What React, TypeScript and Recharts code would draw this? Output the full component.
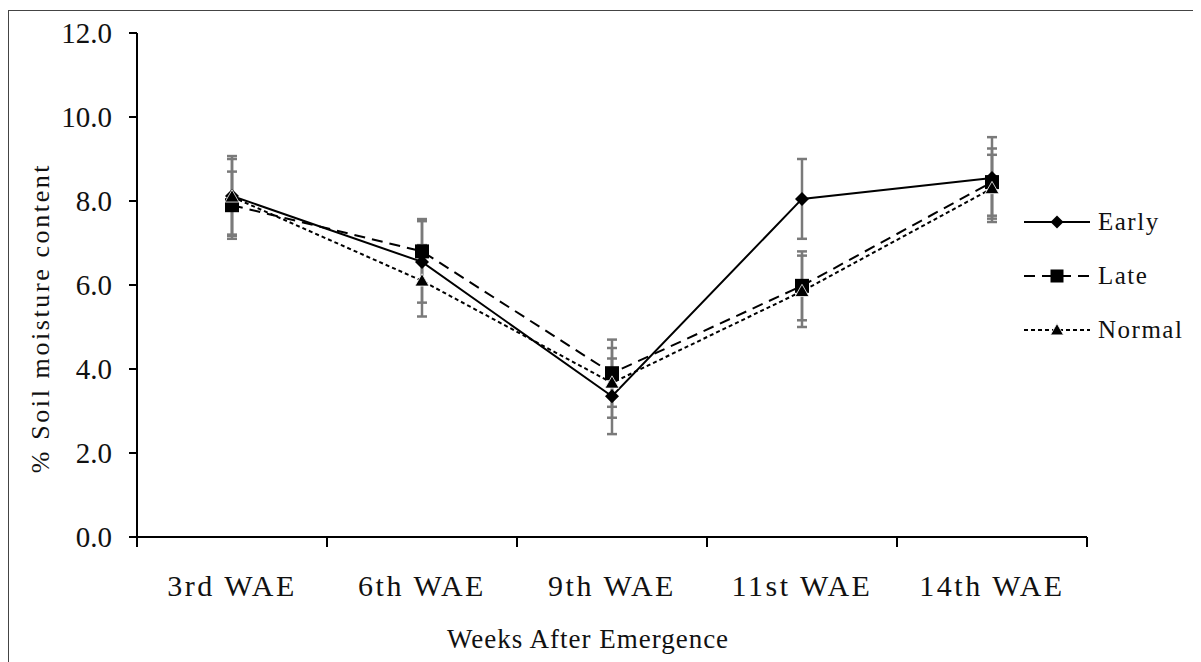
import React from "react";
import { LineChart, Line, XAxis, YAxis, ErrorBar, Legend } from "recharts";

const CATEGORIES = ["3rd WAE", "6th WAE", "9th WAE", "11st WAE", "14th WAE"];
const EARLY = [8.12, 6.55, 3.35, 8.05, 8.55];
const LATE = [7.9, 6.8, 3.9, 5.98, 8.45];
const NORMAL = [8.1, 6.1, 3.67, 5.85, 8.3];
const EARLY_ERR = [0.95, 0.97, 0.9, 0.95, 0.97];
const LATE_ERR = [0.8, 0.77, 0.8, 0.82, 0.8];
const NORMAL_ERR = [0.9, 0.85, 0.83, 0.85, 0.8];
const Y_TICKS = [0, 2, 4, 6, 8, 10, 12];

const SERIES = [
  { key: "early", name: "Early", dash: undefined as string | undefined, shape: "diamond" },
  { key: "late", name: "Late", dash: "11 7", shape: "square" },
  { key: "normal", name: "Normal", dash: "4 3", shape: "triangle" },
];

const data = CATEGORIES.map((cat, i) => ({
  cat,
  early: EARLY[i],
  late: LATE[i],
  normal: NORMAL[i],
  earlyErr: EARLY_ERR[i],
  lateErr: LATE_ERR[i],
  normalErr: NORMAL_ERR[i],
}));

const FONT = '"Liberation Serif", "Times New Roman", serif';

function Marker({ shape, cx, cy, s = 7 }: { shape: string; cx: number; cy: number; s?: number }) {
  if (shape === "diamond") {
    return <path d={`M${cx},${cy - s}L${cx + s},${cy}L${cx},${cy + s}L${cx - s},${cy}Z`} fill="#000" />;
  }
  if (shape === "square") {
    return <rect x={cx - s} y={cy - s} width={2 * s} height={2 * s} fill="#000" />;
  }
  return (
    <path
      d={`M${cx},${cy - s}L${cx + s},${cy + s * 0.75}L${cx - s},${cy + s * 0.75}Z`}
      fill="#000"
      stroke="#fff"
      strokeWidth={0.8}
    />
  );
}

function makeDot(shape: string) {
  return (props: any) => {
    const { cx, cy, index } = props;
    if (cx == null || cy == null) return <g key={`${shape}-${index}`} />;
    return (
      <g key={`${shape}-${index}`}>
        <Marker shape={shape} cx={cx} cy={cy} />
      </g>
    );
  };
}

// category ticks: boundary marks between bands, label in the middle
function XTick(props: any) {
  const { x, y, payload, index } = props;
  const half = payload?.offset || 95;
  const last = index === CATEGORIES.length - 1;
  return (
    <g>
      <line x1={x - half} x2={x - half} y1={y - 10} y2={y} stroke="#000" strokeWidth={2} />
      {last && <line x1={x + half} x2={x + half} y1={y - 10} y2={y} stroke="#000" strokeWidth={2} />}
      <text
        x={x}
        y={y + 49}
        textAnchor="middle"
        fontFamily={FONT}
        fontSize={30}
        letterSpacing={2.5}
        fill="#111"
      >
        {payload.value}
      </text>
    </g>
  );
}

function LegendBox() {
  return (
    <div style={{ fontFamily: FONT, fontSize: 25, letterSpacing: 1.5, color: "#111" }}>
      {SERIES.map((s) => (
        <div key={s.key} style={{ display: "flex", alignItems: "center", height: 54 }}>
          <svg width={66} height={20} style={{ marginRight: 8 }}>
            <line x1={0} x2={66} y1={10} y2={10} stroke="#000" strokeWidth={2} strokeDasharray={s.dash} />
            <Marker shape={s.shape} cx={33} cy={10} s={6.5} />
          </svg>
          <span>{s.name}</span>
        </div>
      ))}
    </div>
  );
}

export default function App() {
  return (
    <div
      style={{
        marginTop: 2,
        width: 1191,
        height: 660,
        border: "1px solid #444",
        boxSizing: "border-box",
        background: "#fff",
        overflow: "hidden",
      }}
    >
      <LineChart width={1189} height={660} data={data} margin={{ top: 22, right: 111, left: 0, bottom: 24 }}>
        <XAxis
          dataKey="cat"
          scale="band"
          height={110}
          axisLine={{ stroke: "#000", strokeWidth: 2 }}
          tickLine={{ stroke: "none" }}
          tickSize={10}
          tickMargin={0}
          tick={<XTick />}
          interval={0}
          label={{
            content: (p: any) => {
              const vb = p.viewBox;
              return (
                <text
                  x={vb.x + vb.width / 2 - 24}
                  y={vb.y + 111}
                  textAnchor="middle"
                  fontFamily={FONT}
                  fontSize={27}
                  letterSpacing={1}
                  fill="#111"
                >
                  Weeks After Emergence
                </text>
              );
            },
          }}
        />
        <YAxis
          type="number"
          domain={[0, 12]}
          ticks={Y_TICKS}
          width={128}
          tickFormatter={(v: number) => v.toFixed(1)}
          axisLine={{ stroke: "#000", strokeWidth: 2 }}
          tickLine={{ stroke: "#000", strokeWidth: 2 }}
          tickSize={8}
          tickMargin={17}
          tick={{ fontFamily: FONT, fontSize: 29, fill: "#111" }}
          label={{
            content: (p: any) => {
              const vb = p.viewBox;
              const cx = 31;
              const cy = vb.y + vb.height / 2 + 33;
              return (
                <text
                  x={cx}
                  y={cy}
                  transform={`rotate(-90 ${cx} ${cy})`}
                  textAnchor="middle"
                  dominantBaseline="central"
                  fontFamily={FONT}
                  fontSize={26}
                  letterSpacing={2.6}
                  fill="#111"
                >
                  % Soil moisture content
                </text>
              );
            },
          }}
        />
        <Legend
          layout="vertical"
          align="center"
          verticalAlign="middle"
          wrapperStyle={{ left: 1015, top: 184, width: 175 }}
          content={() => <LegendBox />}
        />
        {SERIES.map((s) => (
          <Line
            key={s.key}
            dataKey={s.key}
            name={s.name}
            stroke="#000"
            strokeWidth={2}
            strokeDasharray={s.dash}
            dot={makeDot(s.shape)}
            activeDot={false}
            isAnimationActive={false}
          >
            <ErrorBar dataKey={`${s.key}Err`} direction="y" width={5} stroke="#7a7a7a" strokeWidth={2.5} />
          </Line>
        ))}
      </LineChart>
    </div>
  );
}
